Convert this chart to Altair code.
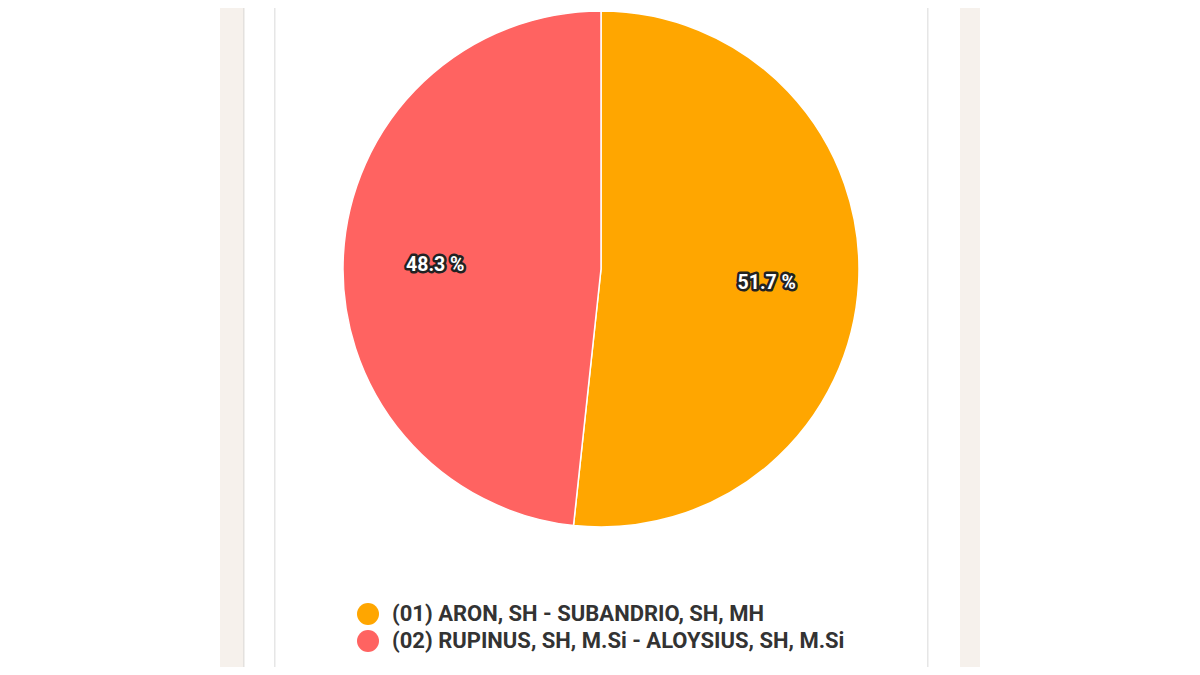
import altair as alt
import pandas as pd

candidates = ["(01) ARON, SH - SUBANDRIO, SH, MH",
              "(02) RUPINUS, SH, M.Si - ALOYSIUS, SH, M.Si"]
shares = [51.7, 48.3]
labels = ["51.7 %", "48.3 %"]
colors = ["#FFA600", "#FF6361"]

df = pd.DataFrame({"cand": candidates, "share": shares, "label": labels,
                   "order": [0, 1]})

W, H = 1184, 659
CX, CY, R = 593, 261, 258

color = alt.Color("cand:N", scale=alt.Scale(domain=candidates, range=colors),
                  legend=alt.Legend(title=None, orient="none", legendX=349, legendY=595,
                                    symbolType="circle", symbolSize=484, symbolStrokeWidth=0,
                                    labelFontSize=22, labelFont="Roboto", labelFontWeight="bold",
                                    labelColor="#333333", labelOffset=13, rowPadding=5,
                                    padding=0, labelLimit=800))

base = alt.Chart(df)

pie = base.mark_arc(radius=R, stroke="white", strokeWidth=1.5).encode(
    theta=alt.Theta("share:Q", stack=True),
    color=color,
    order=alt.Order("order:Q"),
    x=alt.value(CX), y=alt.value(CY),
)

txt_outline = base.mark_text(radius=166, font="Roboto", fontSize=19.5, fontWeight="bold",
                             fill="#222222", stroke="#222222", strokeWidth=5,
                             strokeJoin="round", dy=5).encode(
    theta=alt.Theta("share:Q", stack=True),
    order=alt.Order("order:Q"),
    text="label:N",
    x=alt.value(CX), y=alt.value(CY),
)
txt = base.mark_text(radius=166, font="Roboto", fontSize=19.5, fontWeight="bold",
                     fill="white", dy=5).encode(
    theta=alt.Theta("share:Q", stack=True),
    order=alt.Order("order:Q"),
    text="label:N",
    x=alt.value(CX), y=alt.value(CY),
)

frame = pd.DataFrame({"x": [212, 235, 266, 919, 952], "x2": [235, 236.5, 267.5, 920.5, 972],
                      "c": ["#F6F1EC", "#E4E1DE", "#E6E6E6", "#E6E6E6", "#F6F1EC"]})
frames = []
for i in range(len(frame)):
    frames.append(alt.Chart(pd.DataFrame({"a": [0]})).mark_rect(color=frame.c[i]).encode(
        x=alt.value(frame.x[i]), x2=alt.value(frame.x2[i]),
        y=alt.value(-3), y2=alt.value(661)))

chart = alt.layer(*frames, pie, txt_outline, txt).properties(
    width=W, height=H, autosize=alt.AutoSizeParams(type="none"), padding=0,
    background="white"
).configure_view(stroke=None)

chart.save("out.html", embed_options={"renderer": "svg", "actions": False})
